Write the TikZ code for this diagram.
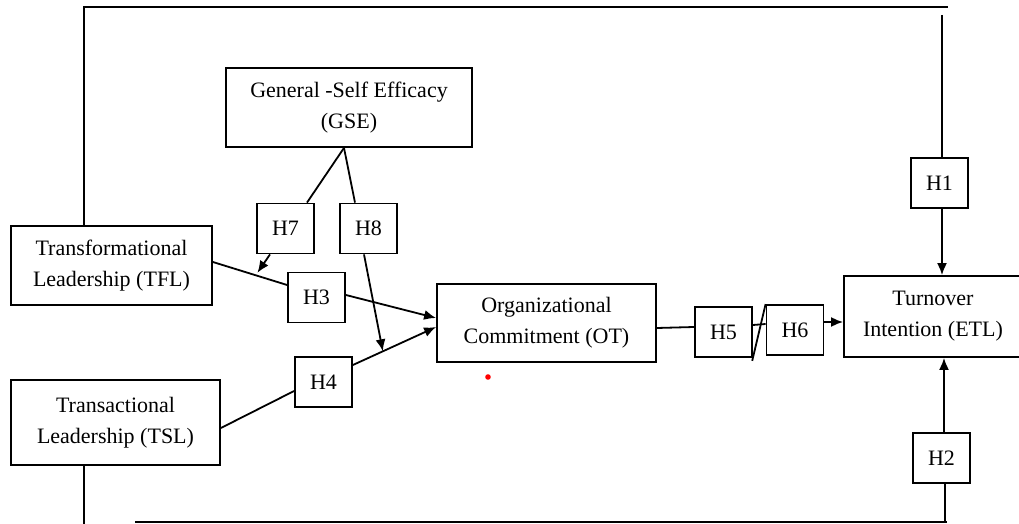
\documentclass[tikz,border=0pt]{standalone}
\usepackage{fontspec}
\setmainfont{Liberation Serif}
\usetikzlibrary{arrows.meta}
\tikzset{
var/.style={
	  draw, line width=0.9pt, align=center, inner sep=0pt,
	    font=\fontsize{11}{15.5}\selectfont},
hyp/.style={
	  var, minimum width=28.5pt, minimum height=25pt}
}

\begin{document}
\begin{tikzpicture}[x=0.5pt, y=-0.5pt, line width=0.9pt, >={Latex[length=6pt,width=5pt]}]
	\useasboundingbox (0,0) rectangle (1019,524);
	\node[var, minimum width=123pt, minimum height=39.5pt] (gse) at (349,107.5) {General -Self Efficacy\\(GSE)};
	\node[var, minimum width=100.5pt, minimum height=39.5pt] (tfl) at (111.5,265.5) {Transformational\\Leadership (TFL)};
	\node[var, minimum width=104.5pt, minimum height=42.5pt] (tsl) at (115.5,422.5) {Transactional\\Leadership (TSL)};
	\node[var, minimum width=109.5pt, minimum height=39pt] (ot) at (546.5,323) {Organizational\\Commitment (OT)};
	\node[var, minimum width=89pt, minimum height=40.5pt] (etl) at (933,316.5) {Turnover\\Intention (ETL)};
	\node[hyp] (h1) at (939.5,183) {H1};
	\node[hyp] (h2) at (941.5,458) {H2};
	\node[hyp] (h3) at (316.5,297.5) {H3};
	\node[hyp] (h4) at (323.5,382) {H4};
	\node[hyp] (h5) at (723.5,332) {H5};
	\node[hyp] (h6) at (795,330) {H6};
	\node[hyp] (h7) at (285.5,228.5) {H7};
	\node[hyp] (h8) at (368.5,228.5) {H8};
	\coordinate (topl) at (84,7);
	\coordinate (topr) at (948,7);
	\coordinate (h1in) at (942,15);
	\coordinate (botl) at (135,522);
	\coordinate (botr) at (947,522);
	\coordinate (tslout) at (84,524);

	\draw ([xshift=-2.5pt]gse.south) -- ([xshift=10.75pt]h7.north);
	\draw ([xshift=-2.5pt]gse.south) -- ([xshift=-6.75pt]h8.north);
	\draw ([yshift=1.75pt]tfl.east) -- coordinate[pos=0.6] (t7) ([yshift=6.25pt]h3.west);
	\draw[->] ([yshift=1.25pt]h3.east) -- ([yshift=2.5pt]ot.west);
	\draw ([yshift=-2.75pt]tsl.east) -- ([yshift=-4.5pt]h4.west);
	\draw[->] ([yshift=8.5pt]h4.east) -- coordinate[pos=0.36] (t8) ([yshift=-2pt]ot.west);
	\draw[->] ([xshift=-7.75pt]h7.south) -- ([yshift=1.5pt]t7);
	\draw[->] ([xshift=-2.25pt]h8.south) -- (t8);
	\draw ([yshift=-2.5pt]ot.east) -- ([yshift=2.5pt]h5.west);
	\draw ([yshift=3.5pt]h5.east) -- ([yshift=3pt]h6.west);
	\draw[shorten <=-1.5pt] (h5.south east) -- (h6.north west);
	\draw[->] ([yshift=4pt]h6.east) -- ([yshift=-2.75pt]etl.west);
	\draw ([xshift=-13.75pt]tfl.north) -- (topl) -- (topr);
	\draw (h1in) -- ([xshift=1.25pt]h1.north);
	\draw[->] ([xshift=1.25pt]h1.south) -- ([xshift=1.25pt]h1.south |- etl.north);
	\draw[->] ([xshift=1.25pt]h2.north) -- ([xshift=1.25pt]h2.north |- etl.south);
	\draw ([xshift=1.75pt]h2.south) -- ([xshift=1.75pt]h2.south |- botr);
	\draw (botl) -- (botr);
	\draw ([xshift=-15.75pt]tsl.south) -- (tslout);
	\fill[red] (488,377) circle (1.4pt);
\end{tikzpicture}
\end{document}
